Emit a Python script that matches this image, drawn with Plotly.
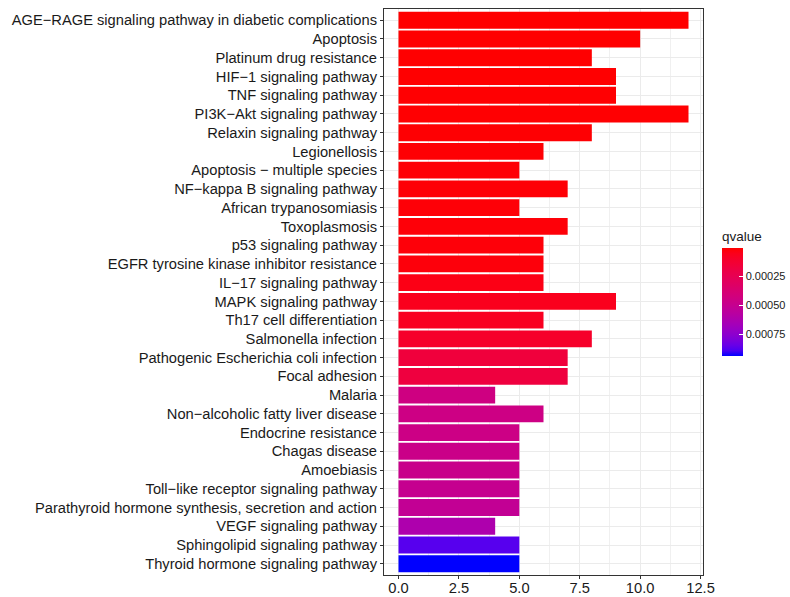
import plotly.graph_objects as go

pathways = [
    "AGE−RAGE signaling pathway in diabetic complications",
    "Apoptosis",
    "Platinum drug resistance",
    "HIF−1 signaling pathway",
    "TNF signaling pathway",
    "PI3K−Akt signaling pathway",
    "Relaxin signaling pathway",
    "Legionellosis",
    "Apoptosis − multiple species",
    "NF−kappa B signaling pathway",
    "African trypanosomiasis",
    "Toxoplasmosis",
    "p53 signaling pathway",
    "EGFR tyrosine kinase inhibitor resistance",
    "IL−17 signaling pathway",
    "MAPK signaling pathway",
    "Th17 cell differentiation",
    "Salmonella infection",
    "Pathogenic Escherichia coli infection",
    "Focal adhesion",
    "Malaria",
    "Non−alcoholic fatty liver disease",
    "Endocrine resistance",
    "Chagas disease",
    "Amoebiasis",
    "Toll−like receptor signaling pathway",
    "Parathyroid hormone synthesis, secretion and action",
    "VEGF signaling pathway",
    "Sphingolipid signaling pathway",
    "Thyroid hormone signaling pathway",
]
counts = [12, 10, 8, 9, 9, 12, 8, 6, 5, 7, 5, 7, 6, 6, 6, 9, 6, 8, 7, 7,
          4, 6, 5, 5, 5, 5, 5, 4, 5, 5]
qvalues = [2.0e-6, 3.0e-6, 4.0e-6, 4.0e-6, 5.0e-6, 6.0e-6, 8.0e-6, 1.0e-5,
           1.2e-5, 1.3e-5, 1.5e-5, 1.6e-5, 1.8e-5, 2.2e-5, 3.9e-5, 5.8e-5,
           6.8e-5, 9.6e-5, 1.61e-4, 1.71e-4, 4.43e-4, 4.52e-4, 4.57e-4,
           4.71e-4, 4.80e-4, 4.99e-4, 5.18e-4, 6.21e-4, 8.74e-4, 9.40e-4]
cbar_tickvals = [0.00025, 0.00050, 0.00075]
cbar_ticktext = ["0.00025", "0.00050", "0.00075"]
x_ticks = [0.0, 2.5, 5.0, 7.5, 10.0, 12.5]


# Lab-space gradient red -> blue (like ggplot's scale_color_gradient)
def _lin(c):
    c = c / 255.0
    return c / 12.92 if c <= 0.04045 else ((c + 0.055) / 1.055) ** 2.4


def _gam(c):
    c = max(0.0, min(1.0, c))
    v = 12.92 * c if c <= 0.0031308 else 1.055 * c ** (1 / 2.4) - 0.055
    return int(round(max(0, min(1, v)) * 255))


XN, YN, ZN = 0.95047, 1.0, 1.08883


def rgb2lab(rgb):
    r, g, b = [_lin(v) for v in rgb]
    X = 0.4124 * r + 0.3576 * g + 0.1805 * b
    Y = 0.2126 * r + 0.7152 * g + 0.0722 * b
    Z = 0.0193 * r + 0.1192 * g + 0.9505 * b

    def f(t):
        return t ** (1 / 3) if t > 0.008856 else 7.787 * t + 16 / 116
    fx, fy, fz = f(X / XN), f(Y / YN), f(Z / ZN)
    return 116 * fy - 16, 500 * (fx - fy), 200 * (fy - fz)


def lab2rgb(lab):
    L, a, b = lab
    fy = (L + 16) / 116
    fx = fy + a / 500
    fz = fy - b / 200

    def finv(t):
        return t ** 3 if t > 0.2069 else (t - 16 / 116) / 7.787
    X, Y, Z = XN * finv(fx), YN * finv(fy), ZN * finv(fz)
    r = 3.2406 * X - 1.5372 * Y - 0.4986 * Z
    g = -0.9689 * X + 1.8758 * Y + 0.0415 * Z
    bb = 0.0557 * X - 0.2040 * Y + 1.0570 * Z
    return _gam(r), _gam(g), _gam(bb)


lab_red = rgb2lab((255, 0, 0))
lab_blue = rgb2lab((0, 0, 255))
colorscale = []
N = 20
for i in range(N + 1):
    p = i / N          # p=0 -> blue (high q), p=1 -> red (low q)
    t = 1 - p
    lab = tuple(lab_red[k] + (lab_blue[k] - lab_red[k]) * t for k in range(3))
    r, g, b = lab2rgb(lab)
    colorscale.append([p, f"rgb({r},{g},{b})"])

qmin, qmax = min(qvalues), max(qvalues)
neg_q = [-q for q in qvalues]

TXT = "#1a1a1a"

fig = go.Figure()
fig.add_trace(go.Bar(
    x=counts,
    y=pathways,
    orientation="h",
    marker=dict(
        color=neg_q,
        colorscale=colorscale,
        cmin=-qmax,
        cmax=-qmin,
        line=dict(width=0),
        colorbar=dict(
            title=dict(text="qvalue", side="top",
                       font=dict(size=13.5, color=TXT)),
            thickness=21,
            len=128,
            lenmode="pixels",
            x=1.0596,
            xanchor="left",
            xpad=0,
            ypad=0,
            y=0.387,
            yanchor="bottom",
            outlinewidth=0,
            tickvals=[-v for v in cbar_tickvals],
            ticktext=cbar_ticktext,
            ticks="inside",
            ticklen=4,
            tickcolor="white",
            tickfont=dict(size=11, color=TXT),
        ),
    ),
    width=0.9,
    hovertemplate="%{y}: %{x}<extra></extra>",
))

fig.update_layout(
    width=790,
    height=597,
    margin=dict(l=384, r=87, t=9, b=22, autoexpand=False),
    plot_bgcolor="white",
    paper_bgcolor="white",
    font=dict(family="Liberation Sans, Arial, sans-serif", size=13, color=TXT),
    showlegend=False,
)
fig.update_xaxes(
    automargin=False,
    range=[-0.6, 12.6],
    tickvals=x_ticks,
    ticktext=[f"{v:.1f}" for v in x_ticks],
    ticklabelstandoff=-4,
    showgrid=True,
    gridcolor="#EBEBEB",
    gridwidth=1.1,
    minor=dict(dtick=1.25, tick0=0, showgrid=True, gridcolor="#F0F0F0", gridwidth=0.6),
    zeroline=False,
    showline=True,
    linecolor="#333333",
    linewidth=1,
    mirror=True,
    ticks="outside",
    ticklen=3,
    tickcolor="#333333",
    tickfont=dict(size=14.7, color=TXT),
)
fig.update_yaxes(
    automargin=False,
    type="category",
    categoryorder="array",
    categoryarray=pathways,
    range=[len(pathways) - 1 + 0.6, -0.6],
    showgrid=True,
    gridcolor="#EBEBEB",
    gridwidth=1.1,
    zeroline=False,
    showline=True,
    linecolor="#333333",
    linewidth=1,
    mirror=True,
    ticks="outside",
    ticklen=3,
    tickcolor="#333333",
    tickfont=dict(size=14.7, color=TXT),
)

# remove the browser's default 8px page margin so the figure sits at (0, 0)
fig.write_html(
    "out.html",
    config={"displayModeBar": False},
    post_script="document.body.style.margin='0';document.body.style.overflow='hidden';",
)
